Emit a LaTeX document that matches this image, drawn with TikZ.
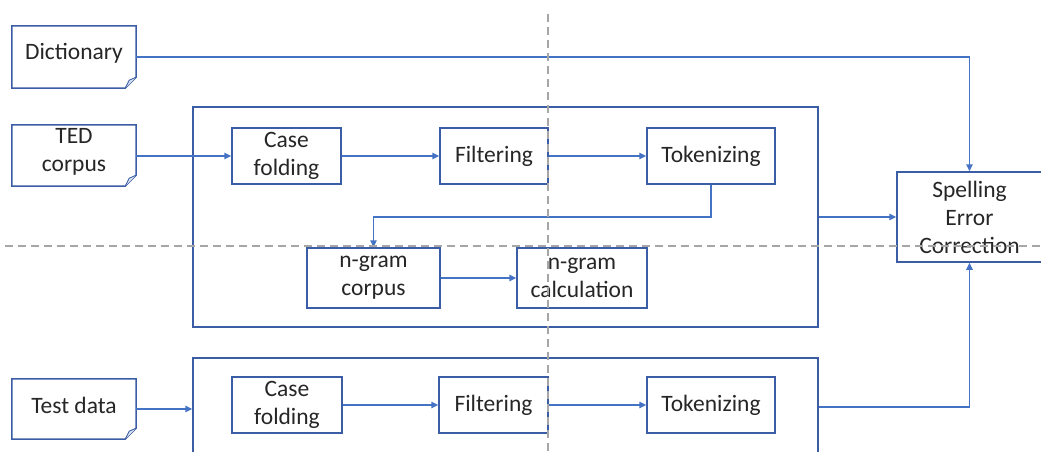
\documentclass[tikz,border=0pt]{standalone}
\usepackage{fontspec}
\setmainfont{Carlito}
\usetikzlibrary{arrows.meta,calc}
\definecolor{boxblue}{HTML}{3B5DA6}
\definecolor{linkblue}{HTML}{4472C4}
\definecolor{dashgray}{HTML}{A6A6A6}
\definecolor{foldfill}{HTML}{DCE3F0}
\definecolor{txt}{HTML}{262626}
\tikzset{
  lbl/.style={font=\fontsize{23.5}{28}\selectfont, text=txt, align=center},
  proc/.style={lbl, draw=boxblue, line width=1.5pt, inner sep=0pt},
  docbox/.style={inner sep=0pt, minimum width=124pt},
  doctext/.style={lbl, inner sep=0pt},
  bigbox/.style={draw=boxblue, line width=1.5pt, inner sep=0pt, minimum width=625pt},
  docline/.style={draw=boxblue, line width=1.5pt, line join=miter},
  link/.style={draw=linkblue, line width=1.5pt, -{Triangle[length=7pt,width=6.5pt]}},
  guide/.style={draw=dashgray, line width=1.4pt, dash pattern=on 8pt off 5pt},
}
\newcommand\drawdocument[1]{%
  \draw[docline] (#1.north west) -- (#1.north east) -- ($(#1.south east)+(0,-11)$)
    -- ($(#1.south east)+(-11,0)$) -- (#1.south west) -- cycle;
  \draw[docline, fill=foldfill, line width=0.9pt] ($(#1.south east)+(0,-11)$)
    -- ($(#1.south east)+(-7,-8)$) -- ($(#1.south east)+(-11,0)$);
}
\begin{document}
\begin{tikzpicture}[x=1pt,y=-1pt]
\useasboundingbox (0,0) rectangle (1041,452);
\clip (0,0) rectangle (1041,452);

% input documents
\node[docbox, minimum height=62pt] (dict) at (74,57) {};
\node[doctext] (dictlabel) at (74,53) {Dictionary};
\node[docbox, minimum height=61pt] (ted) at (74,155.5) {};
\node[doctext] (tedlabel) at (74,152) {TED\\corpus};
\node[docbox, minimum height=60pt] (test) at (74,409) {};
\node[doctext] (testlabel) at (74,405) {Test data};
\drawdocument{dict}
\drawdocument{ted}
\drawdocument{test}

% big group boxes
\node[bigbox, minimum height=220pt] (grp1) at (505.5,217) {};
\node[bigbox, minimum height=98pt] (grp2) at (505.5,407) {};

% upper processing
\node[proc, minimum width=109pt, minimum height=56pt] (cf1) at (286.5,156) {Case\\folding};
\node[proc, minimum width=108pt, minimum height=56pt] (filt1) at (494,156) {Filtering};
\node[proc, minimum width=128pt, minimum height=56pt] (tok1) at (711,156) {Tokenizing};
\node[proc, minimum width=133pt, minimum height=60pt] (ngc) at (373.5,278) {n-gram\\corpus};
\node[proc, minimum width=130pt, minimum height=60pt] (ngcalc) at (582,278) {n-gram\\calculation};

% lower processing
\node[proc, minimum width=110pt, minimum height=56pt] (cf2) at (287,405) {Case\\folding};
\node[proc, minimum width=109pt, minimum height=56pt] (filt2) at (493.5,405) {Filtering};
\node[proc, minimum width=128pt, minimum height=56pt] (tok2) at (711,405) {Tokenizing};

% spelling error correction
\node[proc, minimum width=145pt, minimum height=90pt] (sec) at (969.5,217) {Spelling\\Error\\Correction};

% connectors
\draw[link] (dict.east) -| (sec.north);
\draw[link] (ted.east |- cf1.west) -- (cf1.west);
\draw[link] (cf1) -- (filt1);
\draw[link] (filt1) -- (tok1);
\draw[link] (tok1.south) -- ++(0,32) -| (ngc.north);
\draw[link] (ngc) -- (ngcalc);
\draw[link] (grp1.east) -- (sec.west);
\draw[link] (test.east) -- (test.east -| grp2.west);
\draw[link] (cf2) -- (filt2);
\draw[link] (filt2) -- (tok2);
\draw[link] (grp2.east) -| (sec.south);

% dashed guide lines
\coordinate (vtop) at (548,14);
\coordinate (vbot) at (548,452);
\coordinate (hleft) at (5,246);
\coordinate (hright) at (1041,246);
\draw[guide] (vtop) -- (vbot);
\draw[guide] (hleft) -- (hright);
\end{tikzpicture}
\end{document}
